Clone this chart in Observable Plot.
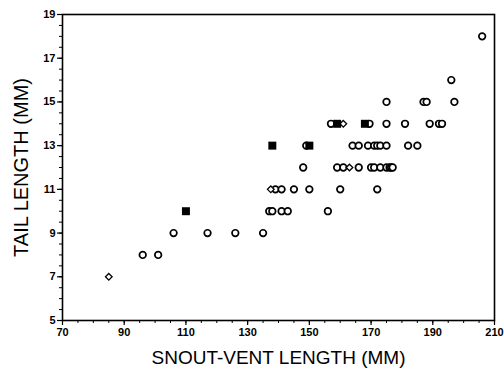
<!DOCTYPE html>
<html>
<head>
<meta charset="utf-8">
<script src="https://cdn.jsdelivr.net/npm/d3@7"></script>
<script src="https://cdn.jsdelivr.net/npm/@observablehq/plot@0.6"></script>
<style>
  html, body { margin: 0; padding: 0; background: white; }
</style>
</head>
<body>
<div id="chart"></div>
<script>
// Tick labels
const xTicks = [70, 90, 110, 130, 150, 170, 190, 210];
const yTicks = [5, 7, 9, 11, 13, 15, 17, 19];

// Open circles: snout-vent length (mm) and tail length (mm)
const circleSVL = [96, 101,
  106, 117, 126, 135,
  137, 138, 141, 143, 156,
  139, 141, 145, 150, 160, 172,
  148, 159, 161, 166, 170, 171, 173, 175, 176, 176.5, 177,
  149, 164, 166, 169, 171, 172, 173, 175, 182, 185,
  157, 169.5, 175, 181, 189, 192, 193,
  175, 187, 188, 197,
  196,
  206];
const circleTL = [8, 8,
  9, 9, 9, 9,
  10, 10, 10, 10, 10,
  11, 11, 11, 11, 11, 11,
  12, 12, 12, 12, 12, 12, 12, 12, 12, 12, 12,
  13, 13, 13, 13, 13, 13, 13, 13, 13, 13,
  14, 14, 14, 14, 14, 14, 14,
  15, 15, 15, 15,
  16,
  18];

// Open diamonds
const diamondSVL = [85, 137.5, 161, 163];
const diamondTL = [7, 11, 14, 12];

// Filled squares
const squareSVL = [110, 138, 150, 159, 168];
const squareTL = [10, 13, 13, 14, 14];

const circles = circleSVL.map((x, i) => ({x, y: circleTL[i]}));
const diamonds = diamondSVL.map((x, i) => ({x, y: diamondTL[i]}));
const squares = squareSVL.map((x, i) => ({x, y: squareTL[i]}));

const chart = Plot.plot({
  width: 504,
  height: 370,
  marginLeft: 62,
  marginRight: 10,
  marginTop: 14,
  marginBottom: 50,
  style: {fontFamily: "'Liberation Sans', Arial, sans-serif", background: "white", color: "black"},
  x: {domain: [70, 210]},
  y: {domain: [5, 19]},
  marks: [
    Plot.axisX(d3.range(70, 211, 5), {tickSize: 3, text: null, label: null, strokeWidth: 1}),
    Plot.axisX(xTicks, {tickSize: 5, tickPadding: 3, fontSize: 11, fontWeight: "bold", label: null, strokeWidth: 1.2}),
    Plot.axisY(d3.range(5, 19.01, 0.5), {tickSize: 3, text: null, label: null, strokeWidth: 1}),
    Plot.axisY(yTicks, {tickSize: 5, tickPadding: 2, fontSize: 11, fontWeight: "bold", label: null, strokeWidth: 1.2}),
    Plot.frame({stroke: "black", strokeWidth: 1.6}),
    Plot.dot(circles, {x: "x", y: "y", r: 3.3, symbol: "circle", stroke: "black", fill: "white", strokeWidth: 1.7}),
    Plot.dot(diamonds, {x: "x", y: "y", r: 3, symbol: "diamond2", stroke: "black", fill: "white", strokeWidth: 1.3}),
    Plot.dot(squares, {x: "x", y: "y", r: 4.5, symbol: "square", fill: "black", stroke: "none"}),
    Plot.text(["SNOUT-VENT LENGTH (MM)"], {frameAnchor: "bottom", dy: 37, lineAnchor: "middle", textAnchor: "middle", fontSize: 19, fill: "black", ariaLabel: "x-title"}),
    Plot.text(["TAIL LENGTH (MM)"], {frameAnchor: "left", dx: -41, rotate: -90, lineAnchor: "middle", textAnchor: "middle", fontSize: 20, fill: "black", ariaLabel: "y-title"})
  ]
});

d3.select(chart).select('[aria-label="x-title"]').attr("letter-spacing", "1.5px");
d3.select(chart).select('[aria-label="y-title"]').attr("letter-spacing", "2px");

document.getElementById("chart").appendChild(chart);
</script>
</body>
</html>
